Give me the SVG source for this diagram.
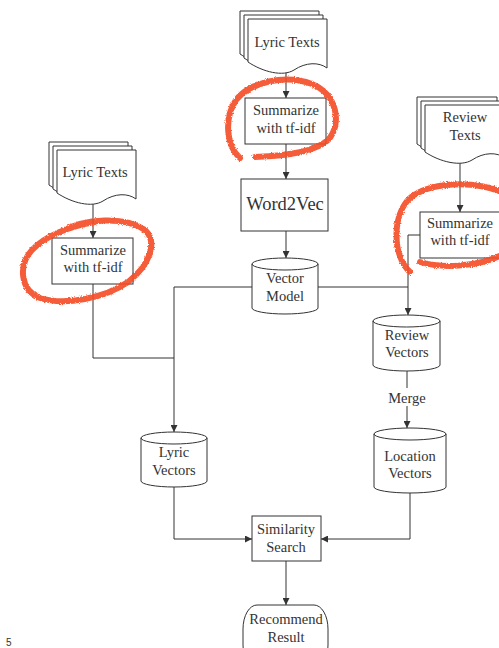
<svg xmlns="http://www.w3.org/2000/svg" width="499" height="648" viewBox="0 0 499 648">
  <defs>
    <marker id="arrow" markerWidth="7" markerHeight="7" refX="7" refY="3.5" orient="auto" markerUnits="userSpaceOnUse">
      <path d="M0,0 L7,3.5 L0,7 Z" fill="#333"/>
    </marker>
    <!-- document page with wavy lower edge -->
    <path id="doc" d="M0,0 H79 V49 C71,43 58,43 46,51 C35,58 15,53 0,43 Z"/>
    <path id="docTall" d="M0,0 H80 V53 C72,47 59,47 47,55 C36,62 15,57 0,47 Z"/>
    <!-- rough marker edge -->
    <filter id="rough" x="-10%" y="-10%" width="120%" height="120%">
      <feTurbulence type="fractalNoise" baseFrequency="0.9" numOctaves="2" seed="3" result="n"/>
      <feDisplacementMap in="SourceGraphic" in2="n" scale="3" xChannelSelector="R" yChannelSelector="G"/>
    </filter>
  </defs>
  <style>
    .shape { fill: #fff; stroke: #333; stroke-width: 1; }
    .edge { fill: none; stroke: #333; stroke-width: 1; }
    .lbl { font-family: "Liberation Serif", "Times New Roman", serif; font-size: 14.5px; fill: #333; text-anchor: middle; }
    .big { font-size: 18.5px; }
    .mark { fill: none; stroke: #f44a24; stroke-width: 6; stroke-linecap: round; stroke-linejoin: round; opacity: 0.9; }
  </style>
  <rect width="499" height="648" fill="#fff"/>

  <!-- connectors -->
  <g id="connectors">
    <path class="edge" d="M286,72 V98" marker-end="url(#arrow)"/>
    <path class="edge" d="M286,144 V179" marker-end="url(#arrow)"/>
    <path class="edge" d="M286,231 V258" marker-end="url(#arrow)"/>
    <path class="edge" d="M93,204 V238" marker-end="url(#arrow)"/>
    <path class="edge" d="M93,284 V358 H174"/>
    <path class="edge" d="M252,287 H174 V432" marker-end="url(#arrow)"/>
    <path class="edge" d="M318,287 H408 V315" marker-end="url(#arrow)"/>
    <path class="edge" d="M460,157 V212" marker-end="url(#arrow)"/>
    <path class="edge" d="M420,235 H408 V287"/>
    <path class="edge" d="M407,371 V428" marker-end="url(#arrow)"/>
    <path class="edge" d="M174,487 V539 H252" marker-end="url(#arrow)"/>
    <path class="edge" d="M410,493 V539 H321" marker-end="url(#arrow)"/>
    <path class="edge" d="M286,561 V605" marker-end="url(#arrow)"/>
    <rect x="386" y="388" width="42" height="18" fill="#fff"/>
    <text class="lbl" x="407" y="403">Merge</text>
  </g>

  <!-- source documents -->
  <g id="lyric-texts-top">
    <use href="#doc" class="shape" transform="translate(240,11)"/>
    <use href="#doc" class="shape" transform="translate(244,15)"/>
    <use href="#doc" class="shape" transform="translate(248,19)"/>
    <text class="lbl" x="287" y="47">Lyric Texts</text>
  </g>
  <g id="lyric-texts-left">
    <use href="#doc" class="shape" transform="translate(49,142)"/>
    <use href="#doc" class="shape" transform="translate(53,146)"/>
    <use href="#doc" class="shape" transform="translate(57,150)"/>
    <text class="lbl" x="95" y="177">Lyric Texts</text>
  </g>
  <g id="review-texts">
    <use href="#docTall" class="shape" transform="translate(417,97)"/>
    <use href="#docTall" class="shape" transform="translate(421,101)"/>
    <use href="#docTall" class="shape" transform="translate(425,105)"/>
    <text class="lbl" x="465" y="122">Review</text>
    <text class="lbl" x="465" y="140">Texts</text>
  </g>

  <!-- processing steps -->
  <g id="summarize-top">
    <rect class="shape" x="245" y="98" width="81" height="46"/>
    <text class="lbl" x="286" y="115">Summarize</text>
    <text class="lbl" x="286" y="133">with tf-idf</text>
  </g>
  <g id="summarize-left">
    <rect class="shape" x="52" y="238" width="81" height="46"/>
    <text class="lbl" x="93" y="255">Summarize</text>
    <text class="lbl" x="93" y="272">with tf-idf</text>
  </g>
  <g id="summarize-right">
    <rect class="shape" x="420" y="212" width="81" height="46"/>
    <text class="lbl" x="460" y="228">Summarize</text>
    <text class="lbl" x="460" y="245">with tf-idf</text>
  </g>
  <g id="word2vec">
    <rect class="shape" x="241" y="179" width="87" height="52"/>
    <text class="lbl big" x="285" y="210">Word2Vec</text>
  </g>

  <!-- vector stores -->
  <g id="vector-model">
    <path class="shape" d="M252,264 a33,6 0 0 1 66,0 V308 a33,6 0 0 1 -66,0 Z"/>
    <path class="edge" d="M252,264 a33,6 0 0 0 66,0"/>
    <text class="lbl" x="285" y="283">Vector</text>
    <text class="lbl" x="285" y="301">Model</text>
  </g>
  <g id="lyric-vectors">
    <path class="shape" d="M141,438 a33,6 0 0 1 66,0 V481 a33,6 0 0 1 -66,0 Z"/>
    <path class="edge" d="M141,438 a33,6 0 0 0 66,0"/>
    <text class="lbl" x="174" y="457">Lyric</text>
    <text class="lbl" x="174" y="475">Vectors</text>
  </g>
  <g id="review-vectors">
    <path class="shape" d="M373,321 a33.5,6 0 0 1 67,0 V365 a33.5,6 0 0 1 -67,0 Z"/>
    <path class="edge" d="M373,321 a33.5,6 0 0 0 67,0"/>
    <text class="lbl" x="407" y="340">Review</text>
    <text class="lbl" x="407" y="357">Vectors</text>
  </g>
  <g id="location-vectors">
    <path class="shape" d="M374,434 a36,6 0 0 1 72,0 V487 a36,6 0 0 1 -72,0 Z"/>
    <path class="edge" d="M374,434 a36,6 0 0 0 72,0"/>
    <text class="lbl" x="410" y="461">Location</text>
    <text class="lbl" x="410" y="478">Vectors</text>
  </g>

  <!-- search and result -->
  <g id="similarity-search">
    <rect class="shape" x="252" y="516" width="69" height="45"/>
    <text class="lbl" x="286" y="534">Similarity</text>
    <text class="lbl" x="286" y="552">Search</text>
  </g>
  <g id="recommend-result">
    <rect class="shape" x="243" y="605" width="85" height="64" rx="14" ry="24"/>
    <text class="lbl" x="286" y="624">Recommend</text>
    <text class="lbl" x="286" y="642">Result</text>
  </g>

  <!-- hand-drawn highlight rings -->
  <g id="highlights" filter="url(#rough)">
    <path class="mark" d="M240,158 C226,146 224,118 236,100 C250,82 285,74 312,84 C338,95 342,125 328,140 C315,152 285,156 255,157"/>
    <path class="mark" d="M60,232 C85,218 125,216 145,230 C158,242 150,265 128,282 C105,298 65,306 40,298 C20,290 18,265 32,250 C45,236 70,226 95,222"/>
    <path class="mark" d="M502,192 C472,180 430,182 410,198 C392,215 392,255 410,272"/>
    <path class="mark" d="M420,262 C440,268 475,268 502,255"/>
  </g>

  <text x="6" y="646" font-family="'Liberation Sans', Arial, sans-serif" font-size="10" fill="#333">5</text>
</svg>
